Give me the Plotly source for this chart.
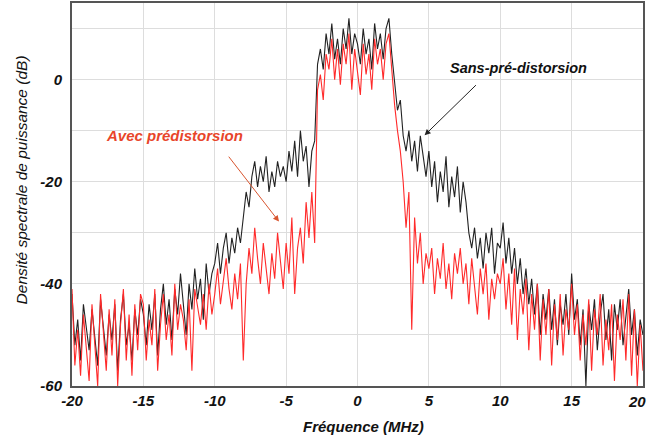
import numpy as np
import plotly.graph_objects as go

# Frequency grid (MHz), 0.2 MHz steps from -20 to 20
freq = np.round(np.linspace(-20, 20, 201), 1)

# Power spectral density without predistortion (dB)
sans_pd = [
    # -20.0 .. -15.2
    -42, -52, -47, -55, -44, -49, -53, -45, -50, -56, -43, -48, -54, -46, -51, -44, -57, -47, -42, -52, -48, -55, -45, -50, -43,
    # -15.0 .. -10.2
    -46, -52, -44, -49, -42, -54, -45, -40, -48, -43, -51, -41, -46, -38, -44, -50, -40, -45, -37, -43, -39, -47, -36, -42, -38,
    # -10.0 .. -5.2
    -36, -32, -38, -33, -30, -36, -31, -34, -29, -32, -27, -22, -25, -19, -16, -21, -17, -20, -15, -22, -18, -21, -16, -19, -17,
    # -5.0 .. -0.2
    -20, -14, -18, -12, -19, -10, -16, -13, -21, -14, -12, 3, 6, 2, 9, 5, 11, 4, 8, 3, 10, 6, 12, 5, 9,
    # 0.0 .. 4.8
    7, 3, 10, 5, 8, 2, 11, 6, 9, 4, 10, 12, 5, -1, -6, -4, -11, -14, -10, -16, -12, -18, -11, -15, -19,
    # 5.0 .. 9.8
    -14, -21, -16, -24, -18, -22, -15, -25, -19, -23, -17, -26, -20, -24, -30, -33, -29, -35, -31, -37, -30, -34, -29, -38, -32,
    # 10.0 .. 14.8
    -33, -28, -36, -31, -38, -33, -40, -35, -42, -37, -44, -39, -46, -40, -50, -42, -47, -41, -49, -43, -52, -44, -48, -42, -50,
    # 15.0 .. 20.0
    -38, -47, -43, -52, -45, -60, -44, -49, -43, -53, -46, -42, -51, -45, -55, -44, -49, -43, -52, -46, -41, -50, -45, -54, -47, -50,
]

# Power spectral density with predistortion (dB)
avec_pd = [
    # -20.0 .. -15.2
    -41, -56, -49, -58, -46, -53, -59, -44, -52, -60, -42, -50, -57, -45, -54, -43, -60, -48, -41, -55, -46, -58, -44, -53, -42,
    # -15.0 .. -10.2
    -44, -55, -47, -52, -41, -57, -48, -42, -51, -46, -54, -40, -49, -44, -47, -53, -43, -57, -41, -45, -48, -42, -49, -40, -46,
    # -10.0 .. -5.2
    -42, -37, -44, -39, -35, -41, -45, -38, -43, -36, -55, -40, -33, -38, -29, -35, -40, -32, -37, -42, -34, -39, -30, -36, -41,
    # -5.0 .. -0.2
    -32, -38, -27, -42, -33, -29, -36, -24, -31, -22, -32, -2, 1, -4, 5, 2, 8, 0, 6, -1, 7, 3, 9, -2, 6,
    # 0.0 .. 4.8
    2, -3, 7, 1, 5, -2, 8, 3, 6, 0, 7, 9, 2, -5, -10, -14, -20, -29, -22, -49, -27, -36, -30, -40, -34,
    # 5.0 .. 9.8
    -37, -33, -42, -35, -39, -32, -41, -36, -43, -34, -38, -33, -40, -36, -44, -35, -40, -46, -37, -42, -36, -47, -39, -43, -38,
    # 10.0 .. 14.8
    -40, -35, -45, -38, -48, -37, -51, -41, -46, -39, -53, -42, -49, -40, -55, -43, -50, -41, -56, -44, -51, -42, -54, -45, -49,
    # 15.0 .. 20.0
    -40, -50, -44, -55, -46, -52, -43, -57, -45, -50, -42, -56, -47, -53, -44, -59, -46, -51, -43, -55, -42, -58, -45, -60, -48, -57,
]

x_ticks = [-20, -15, -10, -5, 0, 5, 10, 15, 20]
x_ticktext = ["-20", "-15", "-10", "-5", "0", "5", "10", "15", ""]
x_last_label = "20"
y_tickvals = [-60, -50, -40, -30, -20, -10, 0, 10]
y_ticktext = ["-60", "", "-40", "", "-20", "", "0", ""]

FONT = "Arial, Liberation Sans, sans-serif"

fig = go.Figure()
fig.add_trace(go.Scatter(x=freq, y=sans_pd, mode="lines",
                         line=dict(color="#222222", width=1.1), name="Sans-pré-distorsion",
                         showlegend=False))
fig.add_trace(go.Scatter(x=freq, y=avec_pd, mode="lines",
                         line=dict(color="#ff2a2a", width=1.1), name="Avec prédistorsion",
                         showlegend=False))

tickfont = dict(family=FONT, size=15, color="#111111", weight="bold", style="italic")

fig.update_xaxes(range=[-20, 20], tickvals=x_ticks, ticktext=x_ticktext, tickfont=tickfont,
                 automargin=False, ticklabeloverflow="allow",
                 showgrid=True, gridcolor="#dddddd", gridwidth=1,
                 showline=True, linecolor="#555555", linewidth=2, mirror=True,
                 zeroline=False, ticks="")
fig.update_yaxes(range=[-60, 15], tickvals=y_tickvals, ticktext=y_ticktext, tickfont=tickfont,
                 automargin=False, ticklabeloverflow="allow",
                 showgrid=True, gridcolor="#dddddd", gridwidth=1,
                 showline=True, linecolor="#555555", linewidth=2, mirror=True,
                 zeroline=False, ticks="outside", ticklen=5, tickcolor="white")

annotations = [
    dict(x=11.3, y=2.3, xref="x", yref="y", text="Sans-pré-distorsion", showarrow=False,
         xanchor="center", yanchor="middle",
         font=dict(family=FONT, size=14.5, color="#111111", weight="bold", style="italic")),
    dict(x=4.7, y=-10.9, ax=8.4, ay=-0.8, xref="x", yref="y", axref="x", ayref="y",
         text="", showarrow=True, arrowhead=2, arrowsize=1.2, arrowwidth=1, arrowcolor="#222222"),
    dict(x=-12.8, y=-10.9, xref="x", yref="y", text="Avec prédistorsion", showarrow=False,
         xanchor="center", yanchor="middle",
         font=dict(family=FONT, size=15, color="#e8452a", weight="bold", style="italic")),
    dict(x=-5.5, y=-27.8, ax=-9.1, ay=-14.8, xref="x", yref="y", axref="x", ayref="y",
         text="", showarrow=True, arrowhead=2, arrowsize=1.2, arrowwidth=1, arrowcolor="#d8552f"),
    dict(x=-0.0885, y=0.538, xref="paper", yref="paper", text="Densité spectrale de puissance (dB)",
         showarrow=False, textangle=-90, xanchor="center", yanchor="middle",
         font=dict(family=FONT, size=15.5, color="#111111", style="italic")),
    dict(x=0.51, y=-0.107, xref="paper", yref="paper", text="Fréquence (MHz)", showarrow=False,
         xanchor="center", yanchor="middle",
         font=dict(family=FONT, size=15, color="#111111", weight="bold", style="italic")),
    dict(x=x_ticks[-1], y=-0.04, xref="x", yref="paper", text=x_last_label, showarrow=False,
         xanchor="right", yanchor="middle", xshift=5,
         font=tickfont),
]

fig.update_layout(width=649, height=441, margin=dict(l=72, r=6, t=3, b=55),
                  paper_bgcolor="white", plot_bgcolor="white",
                  annotations=annotations, showlegend=False)

fig.write_html("out.html", config={"displayModeBar": False},
               post_script="document.body.style.margin='0';")
